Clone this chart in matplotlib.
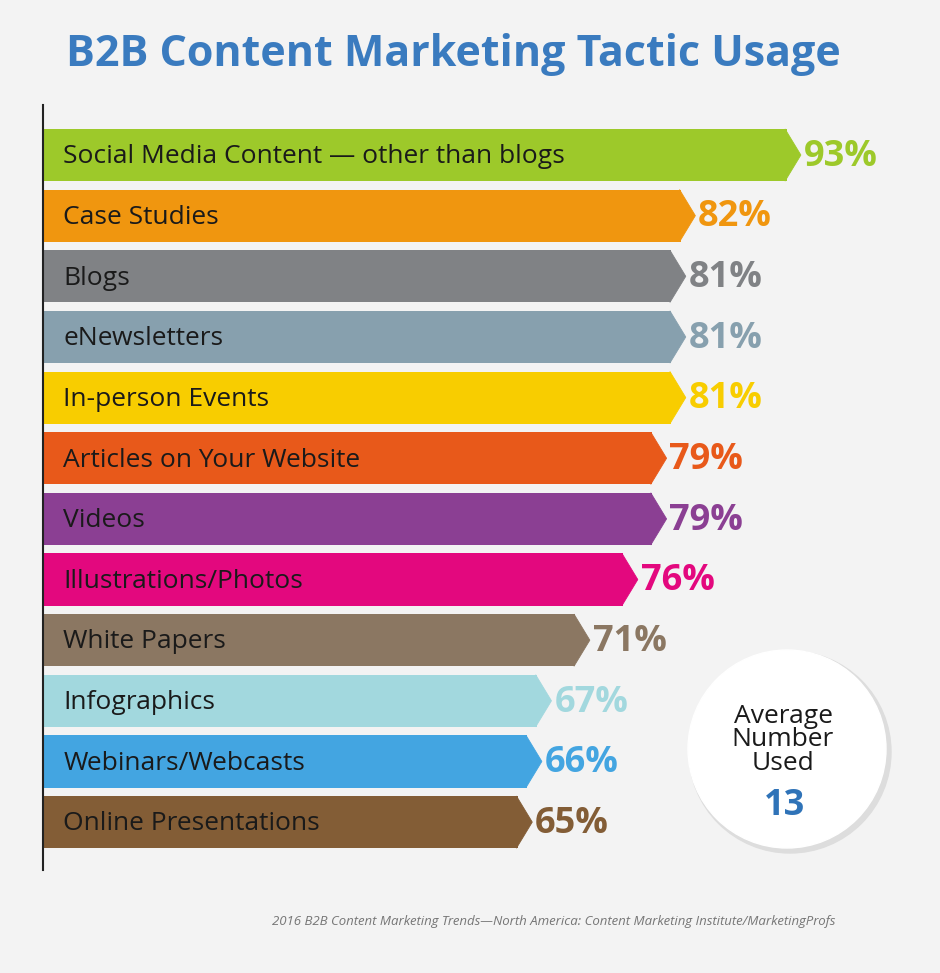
import matplotlib
matplotlib.use("Agg")
import matplotlib.pyplot as plt
from matplotlib.patches import Polygon, Circle

categories = ["Social Media Content \u2014 other than blogs", "Case Studies", "Blogs", "eNewsletters",
              "In-person Events", "Articles on Your Website", "Videos", "Illustrations/Photos",
              "White Papers", "Infographics", "Webinars/Webcasts", "Online Presentations"]
values = [93, 82, 81, 81, 81, 79, 79, 76, 71, 67, 66, 65]
colors = ["#9dc92a", "#f0960f", "#808285", "#87a0ae", "#f8cd00", "#e8591a",
          "#8b3f93", "#e3087e", "#8b7762", "#a2d8de", "#43a5e1", "#835d36"]
title = "B2B Content Marketing Tactic Usage"
source = "2016 B2B Content Marketing Trends\u2014North America: Content Marketing Institute/MarketingProfs"
avg_label = "Average\nNumber\nUsed"
avg_value = "13"

fig = plt.figure(figsize=(9.4, 9.73), dpi=100)
fig.patch.set_facecolor("#f3f3f3")
W, H = 940, 973
ax = fig.add_axes([43/W, 1-870/H, 1-43/W, (870-105)/H])
ax.set_facecolor("none")
xl = 15.5
ax.set_xlim(xl, 109)
ax.set_ylim(11.79, -0.825)
bh = 0.86
tip = 1.5
ys = list(range(len(values)))
ax.barh(ys, [v - xl for v in values], left=xl, height=bh, color=colors, edgecolor="none")
for y, v, c, cat in zip(ys, values, colors, categories):
    ax.add_patch(Polygon([[v - 0.15, y - bh/2], [v + tip, y], [v - 0.15, y + bh/2]],
                         closed=True, facecolor=c, edgecolor=c, lw=0.6))
    ax.text(xl + 2.1, y + 0.03, cat, va="center", ha="left", fontsize=19,
            family="Open Sans", color="#1a1a1a")
    ax.text(v + tip + 0.3, y + 0.03, f"{v}%", va="center", ha="left", fontsize=26,
            family="Open Sans", fontweight="bold", color=c)
for s in ["top", "right", "bottom"]:
    ax.spines[s].set_visible(False)
ax.spines["left"].set_linewidth(1.5)
ax.spines["left"].set_color("#222222")
ax.set_xticks([]); ax.set_yticks([])

fig.text(66/W, 1-55/H, title, fontsize=31, fontweight="bold", color="#3a7bbf",
         family="Open Sans", va="center", ha="left")
fig.text(835/W, 1-922/H, source, fontsize=9.5, style="italic", color="#777777",
         family="Open Sans", va="center", ha="right")

cax = fig.add_axes([0, 0, 1, 1]); cax.set_xlim(0, W); cax.set_ylim(H, 0); cax.axis("off")
cax.add_patch(Circle((790, 752), 101, color="#dddddd", zorder=1))
cax.add_patch(Circle((787, 749), 99, color="white", zorder=2))
cax.text(783, 740, avg_label, ha="center", va="center", fontsize=19, family="Open Sans",
         color="#1a1a1a", linespacing=0.9, zorder=3)
cax.text(785, 806, avg_value, ha="center", va="center", fontsize=26, fontweight="bold",
         family="Open Sans", color="#2f73b8", zorder=3)

fig.savefig("out.png", dpi=100, facecolor=fig.get_facecolor())
